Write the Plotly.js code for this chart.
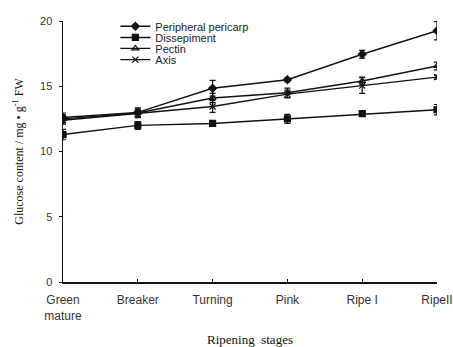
<!DOCTYPE html>
<html>
<head>
<meta charset="utf-8">
<script src="https://cdn.plot.ly/plotly-3.0.1.min.js"></script>
<style>html,body{margin:0;padding:0;background:#fff;}#chart{width:453px;height:347px;}</style>
</head>
<body>
<div id="chart"></div>
<script>
var stages = ["Green<br>mature", "Breaker", "Turning", "Pink", "Ripe I", "RipeII"];
var seriesNames = ["Peripheral pericarp", "Dissepiment", "Pectin", "Axis"];
var peripheral = [12.6, 13.0, 14.85, 15.5, 17.45, 19.25];
var peripheralErr = [0.35, 0.35, 0.6, 0.15, 0.3, 0.7];
var dissepiment = [11.3, 12.0, 12.15, 12.5, 12.9, 13.2];
var dissepimentErr = [0.4, 0.3, 0.2, 0.35, 0.15, 0.4];
var pectin = [12.5, 12.95, 14.1, 14.5, 15.4, 16.55];
var pectinErr = [0.3, 0.3, 0.35, 0.35, 0.3, 0.3];
var axisVals = [12.4, 12.9, 13.45, 14.4, 15.05, 15.7];
var axisErr = [0.3, 0.3, 0.45, 0.3, 0.6, 0.15];
var yTicks = [0, 5, 10, 15, 20];

var xIdx = stages.map(function(_, i){ return i; });
var allVals = [peripheral, dissepiment, pectin, axisVals];
var allErr = [peripheralErr, dissepimentErr, pectinErr, axisErr];
var symbols = ["diamond", "square", "triangle-up-open", "x-thin-open"];
var sizes = [6, 6, 6, 6];
var legendNames = ["legend", "legend2", "legend3", "legend4"];

var traces = allVals.map(function(v, k){
  return {
    x: xIdx, y: v, name: seriesNames[k], type: "scatter", mode: "lines+markers",
    line: {color: "#111", width: 1.4},
    marker: {symbol: symbols[k], size: sizes[k], color: "#111", line: {color: "#111", width: 1.2}},
    error_y: {type: "data", array: allErr[k], visible: true, color: "#111", thickness: 1.2, width: 3},
    legend: legendNames[k], showlegend: true
  };
});

var legendFont = {family: "Arial, Liberation Sans, sans-serif", size: 11, color: "#222"};
var layout = {
  width: 453, height: 347,
  margin: {l: 63, r: 16, t: 18, b: 65},
  paper_bgcolor: "#fff", plot_bgcolor: "#fff",
  showlegend: true,
  xaxis: {
    range: [0, 5], tickvals: xIdx, ticktext: stages, showgrid: false, zeroline: false,
    showline: true, linecolor: "#111", linewidth: 1.5, ticks: "inside", ticklen: 3, tickcolor: "#111",
    ticklabelstandoff: 6,
    tickfont: {family: "Arial, Liberation Sans, sans-serif", size: 12, color: "#333"},
    title: {text: "Ripening  stages", font: {family: "Times New Roman, Liberation Serif, serif", size: 13, color: "#111"}, standoff: 18},
    automargin: false
  },
  yaxis: {
    range: [0, 20], tickvals: yTicks, showgrid: false, zeroline: false,
    showline: true, linecolor: "#111", linewidth: 1.5, ticks: "outside", ticklen: 3, tickcolor: "#111",
    ticklabelstandoff: 4,
    tickfont: {family: "Arial, Liberation Sans, sans-serif", size: 11, color: "#333"},
    title: {text: "Glucose content / mg \u2022 g<sup>-1</sup> FW", font: {family: "Times New Roman, Liberation Serif, serif", size: 12, color: "#111"}, standoff: 14},
    automargin: false
  }
};
var legY = [0.98, 0.937, 0.895, 0.852];
legendNames.forEach(function(ln, k){
  layout[ln] = {x: 0.14, y: legY[k], xanchor: "left", yanchor: "middle", bgcolor: "rgba(0,0,0,0)",
    font: legendFont, itemwidth: 30, tracegroupgap: 0};
});
Plotly.newPlot("chart", traces, layout, {displayModeBar: false, staticPlot: true});
</script>
</body>
</html>
